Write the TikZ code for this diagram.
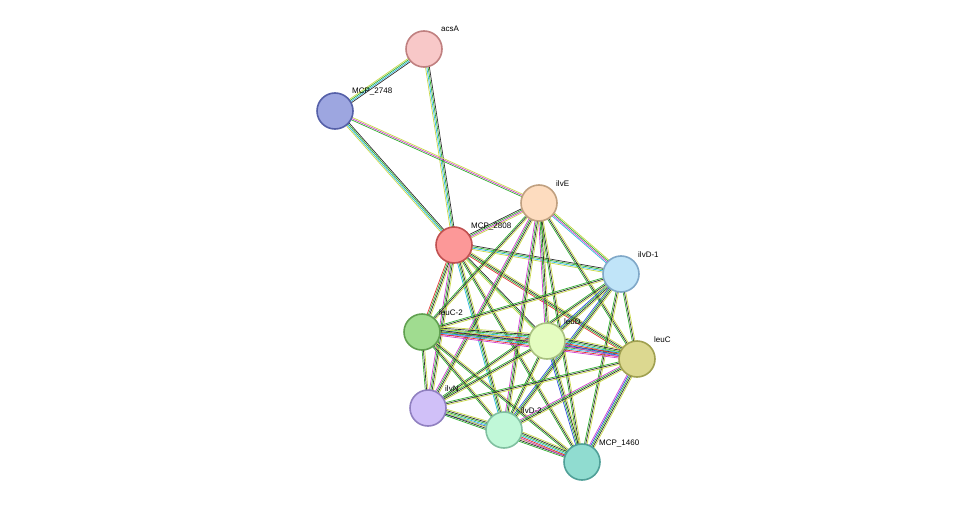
\documentclass[tikz,border=0pt]{standalone}
\usepackage{fontspec}
\setmainfont{Liberation Sans}
\usetikzlibrary{calc,backgrounds}
\definecolor{tm}{HTML}{C8D848}
\definecolor{nb}{HTML}{30B030}
\definecolor{co}{HTML}{303030}
\definecolor{ex}{HTML}{D040D0}
\definecolor{db}{HTML}{30B8E0}
\definecolor{fu}{HTML}{E03030}
\definecolor{oc}{HTML}{3050E0}
\tikzset{
  prot/.style={circle, minimum size=36pt, inner sep=0pt, line width=1.6pt},
  lbl/.style={font=\fontsize{8}{9}\selectfont, anchor=base west, inner sep=0pt},
  edge/.style={line width=0.7pt}
}
% bundle of coloured lines between two nodes
\newcommand\bundle[3]{%
  \edef\clist{#3}%
  \foreach \c [count=\i] in \clist {%
    \pgfmathsetmacro\o{(\i-2)*1.3}%
    \draw[\c,edge] ($(#1)!\o pt!90:(#2)$) -- ($(#2)!\o pt!-90:(#1)$);}}
\newcommand\prot[5]{%
  \definecolor{#1-f}{HTML}{#4}\definecolor{#1-d}{HTML}{#5}%
  \node[prot, fill=#1-f, draw=#1-d] (#1) at (#2) {};
  \node[lbl] (#1-l) at ($(#1)+(17,-17)$) {#3};}
\begin{document}
\begin{tikzpicture}[x=1pt,y=-1pt]
  \useasboundingbox (0,0) rectangle (976,508);
  \prot{acsA}{424,49}{acsA}{F8C8C8}{C08080}
  \prot{m2748}{335,111}{MCP\_2748}{9DA6E0}{5560A8}
  \prot{ilvE}{539,203}{ilvE}{FDDCBF}{C0A080}
  \prot{m2808}{454,245}{MCP\_2808}{FC9898}{C05050}
  \prot{ilvD1}{621,274}{ilvD-1}{C0E4F8}{80A8C8}
  \prot{leuCt}{422,332}{leuC-2}{A0DC90}{60A050}
  \prot{leuD}{547,341}{leuD}{E4FCC0}{A8C080}
  \prot{leuC}{637,359}{leuC}{DCD890}{A0A050}
  \prot{ilvN}{428,408}{ilvN}{D0C0F8}{9080C0}
  \prot{ilvD2}{504,430}{ilvD-2}{C0F8D8}{80C0A0}
  \prot{m1460}{582,462}{MCP\_1460}{90DCD0}{50A098}
  \begin{pgfonlayer}{background}
    \bundle{acsA}{m2748}{tm,nb,db,co}
    \bundle{acsA}{m2808}{tm,db,nb,co}
    \bundle{m2748}{m2808}{tm,db,nb,co}
    \bundle{m2748}{ilvE}{nb,ex,tm}
    \bundle{m2808}{ilvE}{tm,ex,nb,co}
    \foreach \a/\b/\cs in {
      m2808/ilvD1/{tm,db,nb,co}, m2808/leuCt/{fu,nb,co,tm}, m2808/leuD/{tm,nb,co},
      m2808/leuC/{fu,nb,co,tm}, m2808/ilvN/{ex,nb,co,tm}, m2808/ilvD2/{db,nb,co,tm},
      m2808/m1460/{nb,co,tm},
      ilvE/ilvD1/{db,ex,nb,tm}, ilvE/leuCt/{nb,co,tm}, ilvE/leuD/{ex,nb,co,tm},
      ilvE/leuC/{nb,co,tm}, ilvE/ilvN/{ex,nb,co,tm}, ilvE/ilvD2/{ex,nb,co,tm},
      ilvE/m1460/{nb,co,tm},
      ilvD1/leuCt/{nb,co,tm}, ilvD1/leuD/{oc,nb,co,tm}, ilvD1/leuC/{nb,co,tm},
      ilvD1/ilvN/{nb,co,tm}, ilvD1/ilvD2/{oc,nb,co,tm}, ilvD1/m1460/{nb,co,tm},
      leuCt/leuD/{ex,oc,fu,db,nb,co,tm}, leuCt/leuC/{ex,fu,db,nb,co,tm},
      leuCt/ilvN/{nb,co,tm}, leuCt/ilvD2/{nb,co,tm}, leuCt/m1460/{nb,co,tm},
      leuD/leuC/{ex,oc,fu,db,nb,co,tm}, leuD/ilvN/{nb,co,tm}, leuD/ilvD2/{nb,co,tm},
      leuD/m1460/{oc,nb,co,tm},
      leuC/ilvN/{nb,co,tm}, leuC/ilvD2/{ex,nb,co,tm}, leuC/m1460/{ex,oc,nb,co,tm},
      ilvN/ilvD2/{oc,db,nb,co,tm}, ilvN/m1460/{nb,co,tm},
      ilvD2/m1460/{ex,fu,db,nb,co,tm}}
      {\bundle{\a}{\b}{\cs}}
  \end{pgfonlayer}
\end{tikzpicture}
\end{document}
